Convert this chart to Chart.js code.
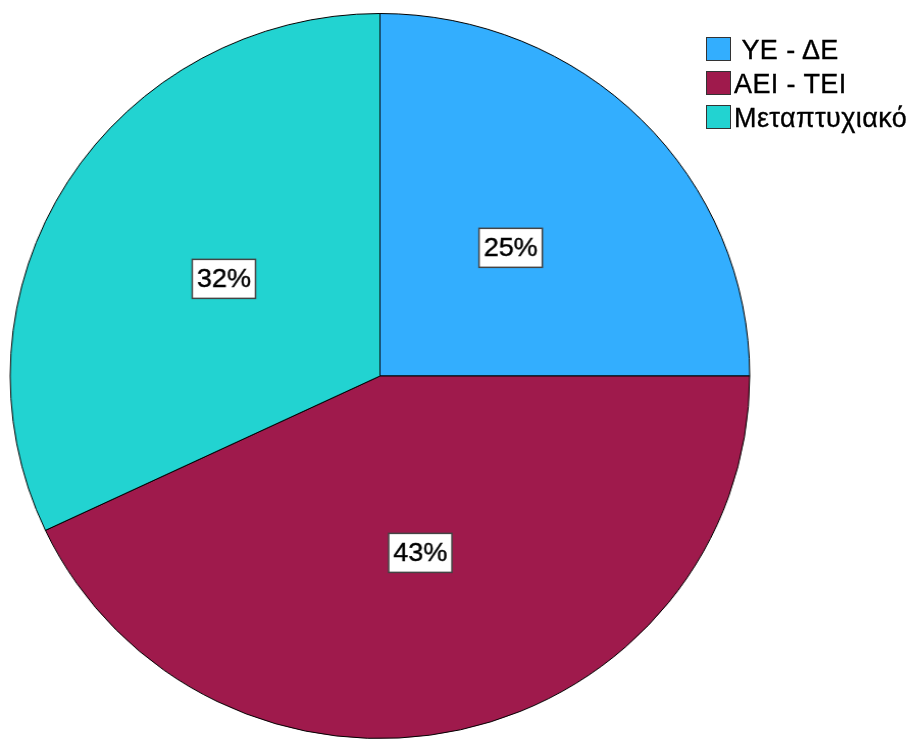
<!DOCTYPE html>
<html>
<head>
<meta charset="utf-8">
<script src="https://cdn.jsdelivr.net/npm/chart.js@4.4.1/dist/chart.umd.min.js"></script>
<style>
    html, body { margin: 0; padding: 0; background: #fff; }
    #wrap { position: relative; width: 917px; height: 740px; overflow: hidden; }
    #box { position: absolute; left: 0; top: 0; width: 899px; height: 740px;
           transform: scaleX(1.02); transform-origin: 0 0; }
    #legend { position: absolute; left: 706px; top: 37px;
              font-family: "Liberation Sans", Arial, sans-serif; font-size: 27px; color: #000;
              letter-spacing: 0.4px; -webkit-text-stroke: 0.35px #000; }
    .item { height: 34px; display: flex; align-items: flex-start; white-space: pre; }
    .sw { width: 23px; height: 22px; border: 1px solid #333; margin-right: 3px; flex: none; }
    .item span { line-height: 27px; margin-top: -0.5px; }
</style>
</head>
<body>
<div id="wrap">
    <div id="box"><canvas id="pieChart"></canvas></div>
    <div id="legend"></div>
</div>
<script>
const categories = ["ΥΕ - ΔΕ", "ΑΕΙ - ΤΕΙ", "Μεταπτυχιακό"];
const legendText = [" ΥΕ - ΔΕ", "ΑΕΙ - ΤΕΙ", "Μεταπτυχιακό"];
const percents = [25, 43, 32];
const colors = ["#33aefe", "#9f1a4c", "#22d3d1"];

// white boxed percentage in the middle of each slice
const sliceLabels = {
    id: "sliceLabels",
    afterDatasetsDraw(chart) {
        const ctx = chart.ctx;
        const meta = chart.getDatasetMeta(0);
        ctx.save();
        ctx.font = "26.5px 'Liberation Sans', Arial, sans-serif";
        ctx.textAlign = "center";
        ctx.textBaseline = "middle";
        meta.data.forEach((arc, i) => {
            const p = arc.tooltipPosition();
            const txt = percents[i] + "%";
            const w = ctx.measureText(txt).width + 9;
            const h = 39;
            ctx.fillStyle = "#fff";
            ctx.fillRect(p.x - w / 2, p.y - h / 2, w, h);
            ctx.strokeStyle = "#444";
            ctx.lineWidth = 1.5;
            ctx.strokeRect(p.x - w / 2, p.y - h / 2, w, h);
            ctx.fillStyle = "#000";
            ctx.strokeStyle = "#000";
            ctx.lineWidth = 0.4;
            ctx.fillText(txt, p.x, p.y + 1);
            ctx.strokeText(txt, p.x, p.y + 1);
        });
        ctx.restore();
    }
};

new Chart(document.getElementById("pieChart"), {
    type: "pie",
    data: {
        labels: categories,
        datasets: [{
            data: percents,
            backgroundColor: colors,
            borderColor: "#000",
            borderWidth: 1
        }]
    },
    options: {
        responsive: true,
        maintainAspectRatio: false,
        animation: false,
        layout: { padding: { left: 9.5, right: 163.5, top: 13, bottom: 1 } },
        plugins: {
            legend: { display: false },
            tooltip: { enabled: false }
        }
    },
    plugins: [sliceLabels]
});

const legend = document.getElementById("legend");
legendText.forEach((t, i) => {
    legend.innerHTML += `<div class="item"><div class="sw" style="background:${colors[i]}"></div><span>${t}</span></div>`;
});
</script>
</body>
</html>
